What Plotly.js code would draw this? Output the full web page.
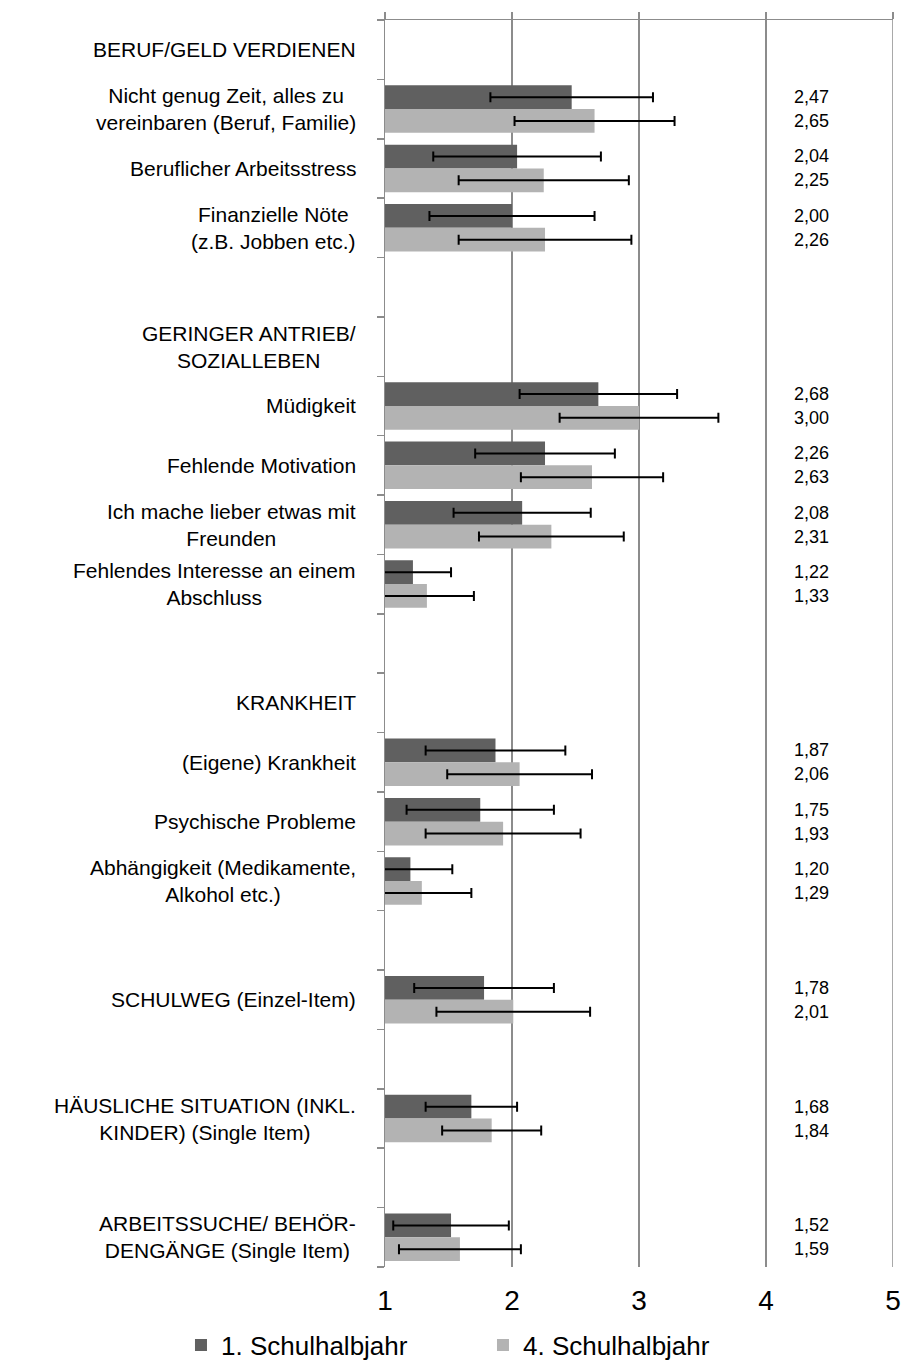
<!DOCTYPE html>
<html>
<head>
<meta charset="utf-8">
<script src="https://cdn.plot.ly/plotly-3.0.1.min.js"></script>
<style>
html, body { margin: 0; padding: 0; background: #ffffff; }
#chart { width: 904px; height: 1360px; }
</style>
</head>
<body>
<div id="chart"></div>
<script>
// ---- data ----
const labels = [
  "BERUF/GELD VERDIENEN",
  "Nicht genug Zeit, alles zu<br>vereinbaren (Beruf, Familie)",
  "Beruflicher Arbeitsstress",
  "Finanzielle Nöte<br>(z.B. Jobben etc.)",
  "",
  "GERINGER ANTRIEB/<br>SOZIALLEBEN",
  "Müdigkeit",
  "Fehlende Motivation",
  "Ich mache lieber etwas mit<br>Freunden",
  "Fehlendes Interesse an einem<br>Abschluss",
  "",
  "KRANKHEIT",
  "(Eigene) Krankheit",
  "Psychische Probleme",
  "Abhängigkeit (Medikamente,<br>Alkohol etc.)",
  "",
  "SCHULWEG (Einzel-Item)",
  "",
  "HÄUSLICHE SITUATION (INKL.<br>KINDER) (Single Item)",
  "",
  "ARBEITSSUCHE/ BEHÖR-<br>DENGÄNGE (Single Item)"
];
const sem1 = [null, 2.47, 2.04, 2.00, null, null, 2.68, 2.26, 2.08, 1.22, null, null, 1.87, 1.75, 1.20, null, 1.78, null, 1.68, null, 1.52];
const sem4 = [null, 2.65, 2.25, 2.26, null, null, 3.00, 2.63, 2.31, 1.33, null, null, 2.06, 1.93, 1.29, null, 2.01, null, 1.84, null, 1.59];
const sd1  = [null, 0.64, 0.66, 0.65, null, null, 0.62, 0.55, 0.54, 0.30, null, null, 0.55, 0.58, 0.33, null, 0.55, null, 0.36, null, 0.455];
const sd4  = [null, 0.63, 0.67, 0.68, null, null, 0.625, 0.56, 0.57, 0.37, null, null, 0.57, 0.61, 0.39, null, 0.605, null, 0.39, null, 0.48];
const seriesNames = ["1. Schulhalbjahr", "4. Schulhalbjahr"];
const xTicks = [1, 2, 3, 4, 5];

// ---- drawing ----
const FONT = "Liberation Sans, Arial, Helvetica, sans-serif";
const GRID = "#8c8c8c";
const pos = labels.map((_, i) => i);
const fmt = v => v.toFixed(2).replace(".", ",");
const errStyle = arr => ({ type: "data", array: arr, visible: true, color: "#000000", thickness: 2, width: 5 });

const traces = [
  { type: "bar", orientation: "h", name: seriesNames[0], y: pos, x: sem1,
    marker: { color: "#606060", line: { width: 0 } }, error_x: errStyle(sd1), hoverinfo: "skip" },
  { type: "bar", orientation: "h", name: seriesNames[1], y: pos, x: sem4,
    marker: { color: "#b3b3b3", line: { width: 0 } }, error_x: errStyle(sd4), hoverinfo: "skip" },
  { type: "scatter", mode: "markers", x: [], y: [], xaxis: "x2", yaxis: "y", showlegend: false, hoverinfo: "skip" }
];

const annotations = [];
labels.forEach((t, i) => {
  if (!t) return;
  annotations.push({ xref: "paper", yref: "y", x: 0, y: i, xanchor: "right", yanchor: "middle",
    xshift: -27, text: t, showarrow: false, align: "center",
    font: { family: FONT, size: 21, color: "#000000" } });
});
sem1.forEach((v, i) => {
  if (v == null) return;
  annotations.push({ xref: "x", yref: "y", x: 4.36, y: i, yshift: 12, xanchor: "center", yanchor: "middle",
    text: fmt(v), showarrow: false, font: { family: FONT, size: 18, color: "#000000" } });
});
sem4.forEach((v, i) => {
  if (v == null) return;
  annotations.push({ xref: "x", yref: "y", x: 4.36, y: i, yshift: -12, xanchor: "center", yanchor: "middle",
    text: fmt(v), showarrow: false, font: { family: FONT, size: 18, color: "#000000" } });
});

const boundaries = Array.from({ length: labels.length + 1 }, (_, i) => i - 0.5);
const lastTick = xTicks[xTicks.length - 1];

const layout = {
  width: 904, height: 1360,
  margin: { l: 385, r: 11, t: 20, b: 93, pad: 0, autoexpand: false },
  paper_bgcolor: "#ffffff", plot_bgcolor: "#ffffff",
  font: { family: FONT, color: "#000000" },
  barmode: "group", bargap: 0.2, bargroupgap: 0,
  showlegend: true,
  legend: { orientation: "h", x: -0.4016, xanchor: "left", y: -0.0626, yanchor: "middle", entrywidth: 257,
    font: { family: FONT, size: 26, color: "#000000" }, bgcolor: "rgba(0,0,0,0)", borderwidth: 0 },
  xaxis: { range: [1, 5], tickvals: xTicks, ticktext: xTicks.map(String), ticks: "", showgrid: true,
    gridcolor: GRID, gridwidth: 1.5, zeroline: false, showline: false, side: "bottom",
    ticklabelstandoff: 14, automargin: false,
    tickfont: { family: FONT, size: 28, color: "#000000" }, fixedrange: true },
  xaxis2: { range: [1, 5], overlaying: "x", anchor: "y", side: "top", tickvals: xTicks, ticks: "outside",
    ticklen: 7, tickwidth: 1.5, tickcolor: GRID, showticklabels: false, showline: true, linecolor: GRID,
    linewidth: 1.5, showgrid: false, zeroline: false, fixedrange: true, automargin: false },
  yaxis: { range: [labels.length - 0.5, -0.5], tickvals: boundaries, ticks: "outside", ticklen: 7,
    tickwidth: 1.5, tickcolor: GRID, showticklabels: false, showline: true, linecolor: GRID, linewidth: 1.5,
    showgrid: false, zeroline: false, fixedrange: true, automargin: false },
  shapes: [
    { type: "line", xref: "x", yref: "paper", x0: lastTick, x1: lastTick, y0: 0, y1: 1,
      line: { color: GRID, width: 1.5 }, layer: "below" }
  ],
  annotations: annotations
};

Plotly.newPlot("chart", traces, layout, { displayModeBar: false, staticPlot: true });
</script>
</body>
</html>
